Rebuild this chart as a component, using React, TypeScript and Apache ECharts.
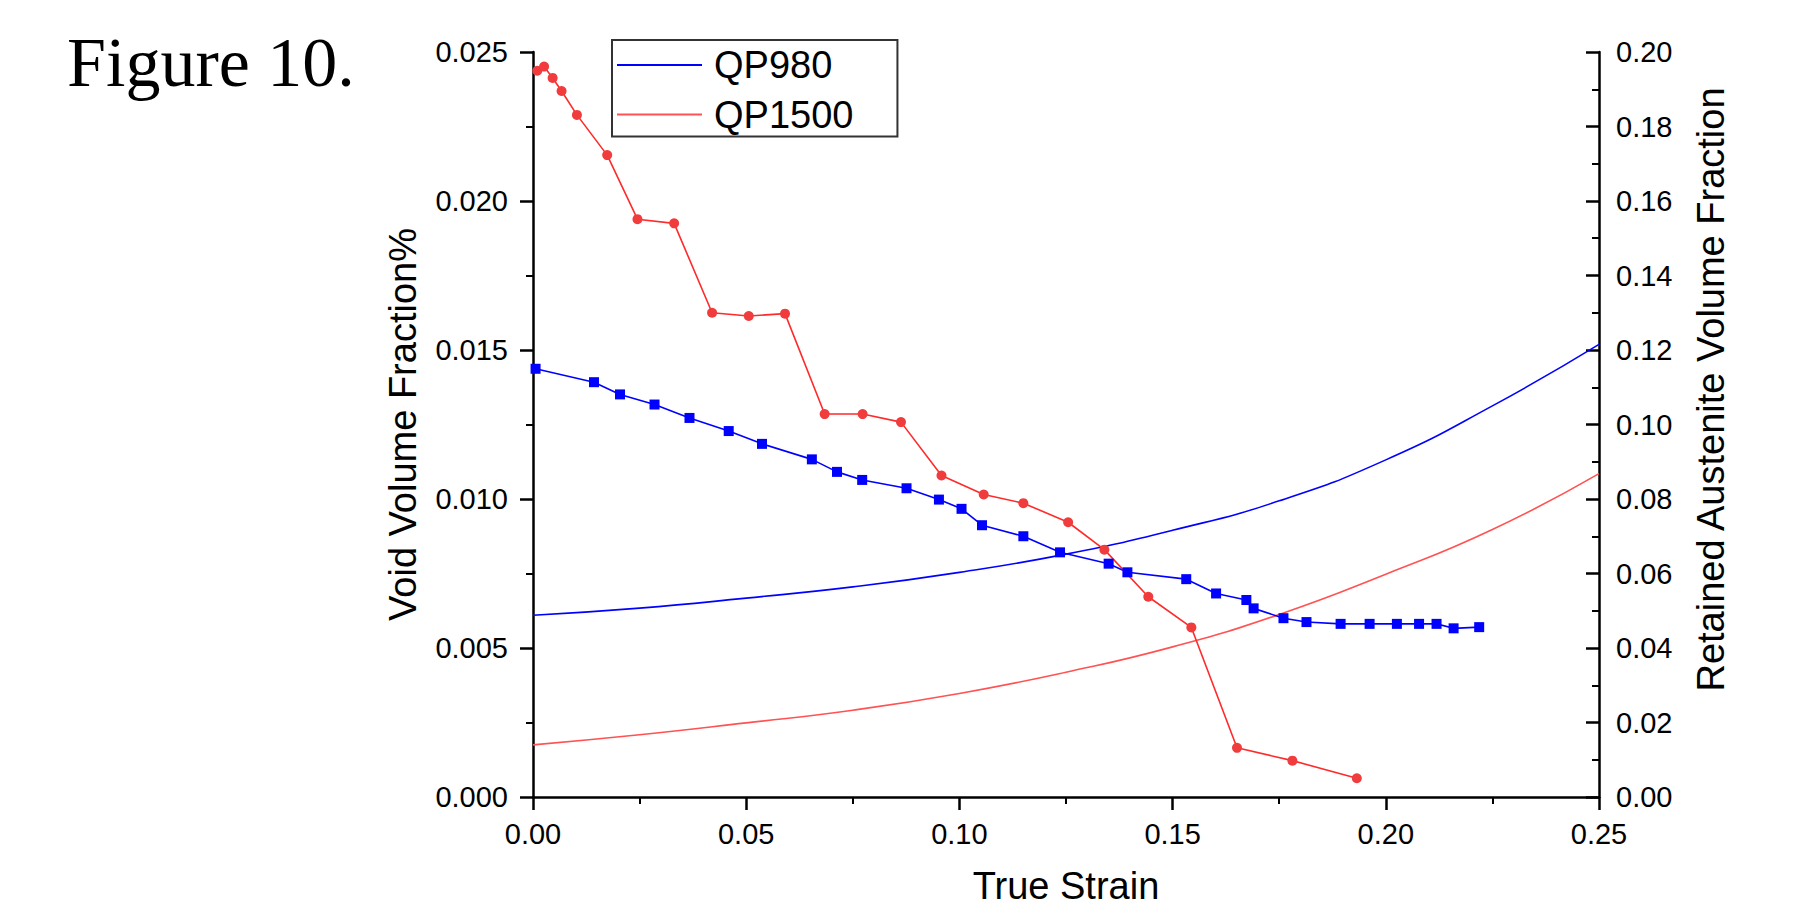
import React, { useEffect, useRef } from "react";
import * as echarts from "echarts";

// True strain (x) and void volume fraction (left axis) – markers
const qp980Strain = [0.0006, 0.0143, 0.0204, 0.0285, 0.0367, 0.0459, 0.0537, 0.0654, 0.0713, 0.0772, 0.0876, 0.0952, 0.1005, 0.1053, 0.1150, 0.1236, 0.1350, 0.1394, 0.1532, 0.1602, 0.1673, 0.1690, 0.1760, 0.1814, 0.1894, 0.1962, 0.2026, 0.2078, 0.2119, 0.2159, 0.2219];
const qp980Void = [0.01437, 0.01392, 0.01351, 0.01317, 0.01272, 0.01228, 0.01185, 0.01133, 0.01091, 0.01064, 0.01036, 0.00998, 0.00967, 0.00912, 0.00875, 0.00821, 0.00783, 0.00754, 0.00731, 0.00683, 0.00661, 0.00633, 0.00600, 0.00587, 0.00581, 0.00581, 0.00581, 0.00581, 0.00581, 0.00566, 0.00570];

const qp1500Strain = [0.0010, 0.0026, 0.0046, 0.0067, 0.0103, 0.0174, 0.0245, 0.0331, 0.0420, 0.0506, 0.0591, 0.0684, 0.0773, 0.0863, 0.0958, 0.1057, 0.1150, 0.1255, 0.1340, 0.1443, 0.1544, 0.1651, 0.1781, 0.1932];
const qp1500Void = [0.02437, 0.02451, 0.02413, 0.02369, 0.02289, 0.02154, 0.01939, 0.01925, 0.01625, 0.01614, 0.01622, 0.01285, 0.01285, 0.01258, 0.01079, 0.01015, 0.00986, 0.00922, 0.00830, 0.00672, 0.00569, 0.00165, 0.00122, 0.00063];

// Retained austenite volume fraction (right axis) – smooth curves
const raStrain = [0, 0.025, 0.05, 0.075, 0.1, 0.125, 0.15, 0.175, 0.2, 0.225, 0.25];
const qp980RA = [0.0488, 0.0507, 0.0534, 0.0564, 0.0603, 0.0652, 0.0716, 0.0795, 0.0905, 0.1050, 0.1215];
const qp1500RA = [0.0140, 0.0167, 0.0199, 0.0233, 0.0278, 0.0335, 0.0403, 0.0490, 0.0598, 0.0718, 0.0868];

const legendNames = ["QP980", "QP1500"];
const xTitle = "True Strain";
const leftTitle = "Void Volume Fraction%";
const rightTitle = "Retained Austenite Volume Fraction";
const figureLabel = "Figure 10.";

const FONT = "'Liberation Sans', Arial, sans-serif";
const BLUE = "#0000ff";
const RED_MARK = "#f03c3c";
const RED_LINE = "#ff2a2a";
const RED_CURVE = "#ff5252";

const zip = (xs: number[], ys: number[]) => xs.map((x, i) => [x, ys[i]]);

export default function App() {
  const ref = useRef<HTMLDivElement>(null);
  useEffect(() => {
    if (!ref.current) return;
    const chart = echarts.init(ref.current, undefined, { renderer: "svg" });
    const axisLine = { show: true, onZero: false, lineStyle: { color: "#000", width: 2.5 } };
    const labelStyle = { color: "#000", fontSize: 29, fontFamily: FONT };
    const nameStyle = { color: "#000", fontSize: 38, fontFamily: FONT };
    chart.setOption({
      animation: false,
      backgroundColor: "#fff",
      grid: { left: 533, right: 207, top: 52, bottom: 108, containLabel: false, outerBoundsMode: "none" },
      graphic: [
        {
          type: "text",
          x: 67,
          y: 62,
          style: {
            text: figureLabel,
            font: "70px 'Liberation Serif', 'Times New Roman', serif",
            fill: "#000",
            verticalAlign: "middle",
            align: "left",
          },
        },
      ],
      legend: {
        orient: "vertical",
        left: 612,
        top: 40,
        padding: [5, 44, 2, 5],
        itemGap: 9.5,
        itemWidth: 85,
        itemHeight: 2,
        borderColor: "#333",
        borderWidth: 2,
        backgroundColor: "#fff",
        textStyle: { color: "#000", fontSize: 38, fontFamily: FONT, lineHeight: 40, padding: [0, 0, 0, 7] },
        data: [
          { name: legendNames[0], icon: "rect", itemStyle: { color: BLUE } },
          { name: legendNames[1], icon: "rect", itemStyle: { color: RED_CURVE } },
        ],
      },
      xAxis: {
        type: "value",
        min: 0,
        max: 0.25,
        interval: 0.05,
        name: xTitle,
        nameLocation: "middle",
        nameGap: 70,
        nameTextStyle: { ...nameStyle, lineHeight: 37 },
        axisLine,
        axisTick: { show: true, length: 13, lineStyle: { color: "#000", width: 2.5 } },
        minorTick: { show: true, splitNumber: 2, length: 7, lineStyle: { color: "#000", width: 2 } },
        splitLine: { show: false },
        minorSplitLine: { show: false },
        axisLabel: { ...labelStyle, margin: 22, formatter: (v: number) => v.toFixed(2) },
      },
      yAxis: [
        {
          type: "value",
          position: "left",
          min: 0,
          max: 0.025,
          interval: 0.005,
          name: leftTitle,
          nameLocation: "middle",
          nameGap: 111,
          nameRotate: 90,
          nameTextStyle: nameStyle,
          axisLine,
          axisTick: { show: true, length: 13, lineStyle: { color: "#000", width: 2.5 } },
          minorTick: { show: true, splitNumber: 2, length: 7, lineStyle: { color: "#000", width: 2 } },
          splitLine: { show: false },
          minorSplitLine: { show: false },
          axisLabel: { ...labelStyle, margin: 25, formatter: (v: number) => v.toFixed(3) },
        },
        {
          type: "value",
          position: "right",
          min: 0,
          max: 0.2,
          interval: 0.02,
          name: rightTitle,
          nameLocation: "middle",
          nameGap: 93,
          nameRotate: 90,
          nameTextStyle: { ...nameStyle, padding: [0, 0, 0, 70] },
          axisLine,
          axisTick: { show: true, inside: true, length: 13, lineStyle: { color: "#000", width: 2.5 } },
          minorTick: { show: true, splitNumber: 2, length: 7, lineStyle: { color: "#000", width: 2 } },
          splitLine: { show: false },
          minorSplitLine: { show: false },
          axisLabel: { ...labelStyle, margin: 17, formatter: (v: number) => v.toFixed(2) },
        },
      ],
      series: [
        {
          name: legendNames[0],
          type: "line",
          yAxisIndex: 1,
          data: zip(raStrain, qp980RA),
          smooth: true,
          showSymbol: false,
          symbol: "none",
          lineStyle: { color: BLUE, width: 1.6 },
          itemStyle: { color: BLUE },
          z: 2,
        },
        {
          name: legendNames[1],
          type: "line",
          yAxisIndex: 1,
          data: zip(raStrain, qp1500RA),
          smooth: true,
          showSymbol: false,
          symbol: "none",
          lineStyle: { color: RED_CURVE, width: 1.6 },
          itemStyle: { color: RED_CURVE },
          z: 2,
        },
        {
          name: legendNames[0],
          type: "line",
          yAxisIndex: 0,
          data: zip(qp980Strain, qp980Void),
          symbol: "rect",
          symbolSize: 10,
          lineStyle: { color: BLUE, width: 1.6 },
          itemStyle: { color: BLUE },
          z: 3,
        },
        {
          name: legendNames[1],
          type: "line",
          yAxisIndex: 0,
          data: zip(qp1500Strain, qp1500Void),
          symbol: "circle",
          symbolSize: 10,
          lineStyle: { color: RED_LINE, width: 1.6 },
          itemStyle: { color: RED_MARK },
          z: 3,
        },
      ],
    });
    return () => chart.dispose();
  }, []);
  return (
    <div
      ref={ref}
      style={{ position: "fixed", left: 0, top: 0, width: 1806, height: 905, background: "#fff" }}
    />
  );
}
